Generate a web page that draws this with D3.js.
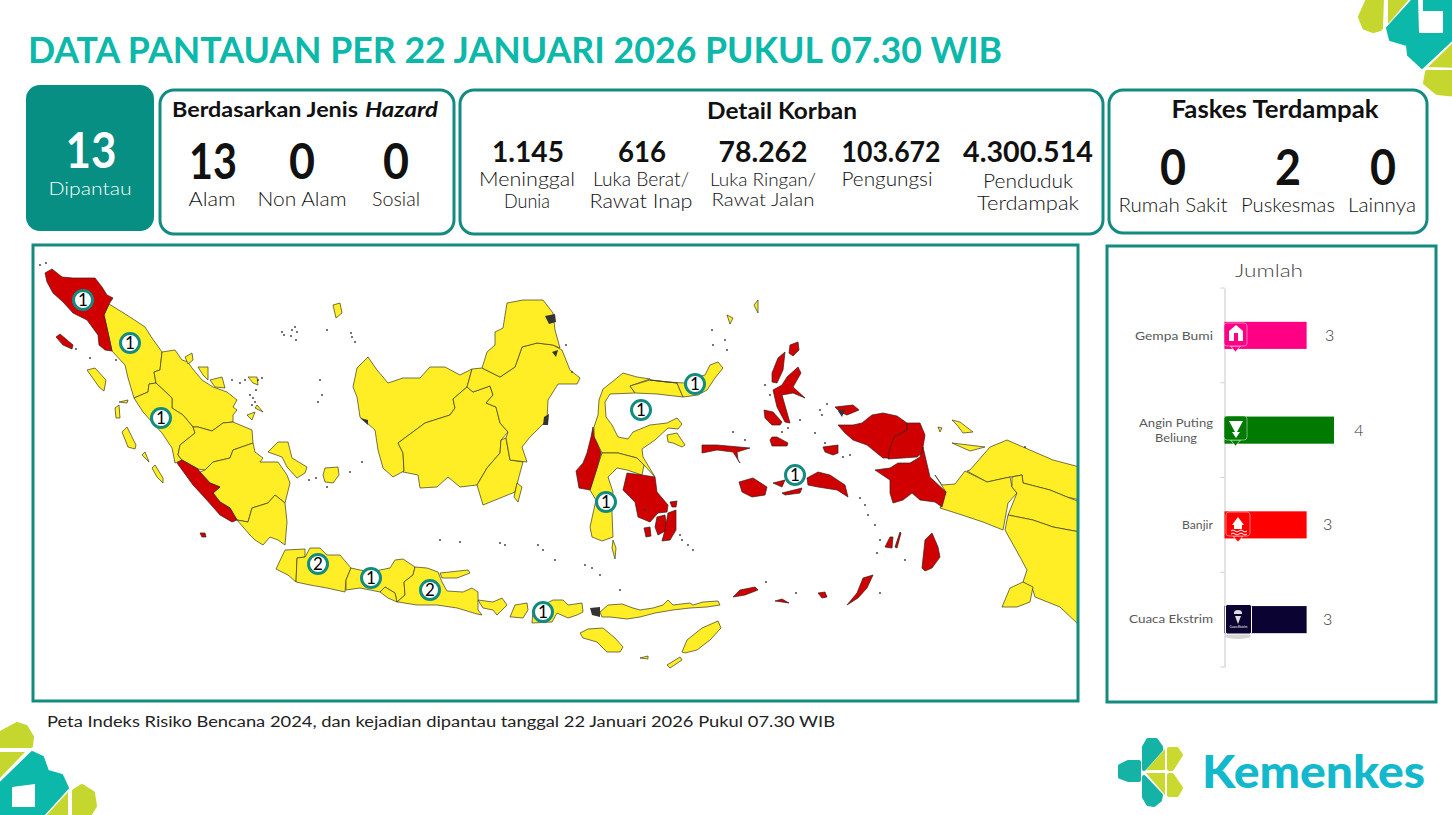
<!DOCTYPE html>
<html>
<head>
<meta charset="utf-8">
<script src="https://cdn.jsdelivr.net/npm/d3@7"></script>
<style>
  html, body { margin: 0; padding: 0; background: #fff; overflow: hidden; }
  text { font-family: Lato, "Open Sans", sans-serif; }
</style>
</head>
<body>
<div id="chart"></div>
<script>
// bar chart data
const hazardNames = ['Gempa Bumi', 'Angin Puting Beliung', 'Banjir', 'Cuaca Ekstrim']
const hazardCounts = [3, 4, 3, 3]
const hazardColors = ['#ff0084', '#007a00', '#ff0000', '#0b0433']

// headline numbers
const hazardTypeLabels = ['Alam', 'Non Alam', 'Sosial']
const hazardTypeValues = ['13', '0', '0']
const victimValues = ['1.145', '616', '78.262', '103.672', '4.300.514']
const victimLabels = [['Meninggal', 'Dunia'], ['Luka Berat/', 'Rawat Inap'], ['Luka Ringan/', 'Rawat Jalan'], ['Pengungsi'], ['Penduduk', 'Terdampak']]
const facilityLabels = ['Rumah Sakit', 'Puskesmas', 'Lainnya']
const facilityValues = ['0', '2', '0']

// map outlines, traced in map units
const aceh = [[45,273],[52,269],[62,277],[73,278],[85,278],[95,278],[102,287],[107,295],[113,298],[109,304],[104,315],[107,328],[112,351],[105,350],[99,345],[98,335],[87,320],[73,313],[63,302],[53,293],[47,282]]
const simeulue = [[56,337],[60,334],[73,345],[72,349],[63,345]]
const bengkulu = [[182,460],[198,469],[200,472],[210,483],[220,487],[213,493],[220,502],[230,508],[237,520],[232,522],[220,515],[205,498],[193,485],[177,463]]
const enggano = [[200,533],[205,533],[206,537],[202,537]]
const sulbar = [[593,427],[591,437],[587,453],[583,463],[576,471],[579,488],[590,490],[597,468],[601,453],[597,443],[594,437]]
const sultra = [[627,473],[642,475],[655,477],[657,492],[668,505],[667,512],[658,513],[650,522],[638,517],[635,502],[623,490]]
const buton = [[657,517],[665,515],[667,530],[658,535],[655,527]]
const muna = [[668,513],[676,510],[676,530],[670,540],[662,541],[665,530]]
const kabaena = [[644,528],[650,527],[651,536],[646,537]]
const wawonii = [[670,502],[677,501],[676,507],[672,507]]
const sula = [[702,445],[717,445],[750,448],[737,452],[738,460],[740,463],[733,452],[717,450],[702,453]]
const buru = [[739,482],[753,478],[767,487],[765,495],[752,497],[742,492]]
const seram = [[807,478],[818,472],[830,475],[845,485],[848,497],[837,490],[818,487],[808,485]]
const manipa = [[773,483],[785,480],[782,487]]
const ambon = [[782,493],[802,488],[800,493],[785,495]]
const halmaheraNorth = [[772,373],[778,358],[785,352],[783,370],[777,383],[772,382]]
const halmaheraEast = [[787,377],[798,367],[801,373],[793,387],[805,398],[793,393],[782,395],[790,423],[785,422],[777,407],[773,390],[782,385]]
const morotai = [[790,345],[798,342],[799,350],[793,356],[789,353]]
const bacan = [[764,410],[773,412],[782,422],[780,425],[772,425],[765,418]]
const obi = [[772,437],[777,437],[788,443],[787,446],[772,446],[770,440]]
const misool = [[823,447],[838,445],[838,453],[833,455],[825,452]]
const waigeo = [[835,407],[853,405],[859,410],[847,415],[840,412]]
const papuaBaratDaya = [[838,425],[853,425],[862,423],[872,415],[883,413],[897,416],[907,423],[907,430],[894,437],[890,458],[883,458],[867,445],[853,440],[845,433]]
const papuaBarat = [[907,423],[920,423],[925,435],[922,453],[917,457],[888,459],[890,448],[894,437],[907,430]]
const fakfak = [[875,470],[890,468],[898,463],[910,463],[920,457],[923,447],[930,477],[946,492],[942,507],[935,502],[920,500],[912,493],[903,500],[893,503],[890,493],[890,480]]
const aru = [[922,568],[925,540],[932,533],[938,547],[940,557],[932,568],[925,571]]
const keiWest = [[885,547],[890,537],[893,537],[892,548]]
const keiEast = [[895,547],[900,532],[901,533],[897,548]]
const tanimbar = [[847,605],[857,593],[863,578],[873,575],[867,588],[858,598]]
const wetar = [[733,597],[740,590],[755,587],[758,590],[745,595]]
const kisar = [[775,601],[782,599],[789,603]]
const babar = [[818,593],[825,592],[827,597],[822,598]]
const redRegions = [aceh, simeulue, bengkulu, enggano, sulbar, sultra, buton, muna, kabaena, wawonii, sula, buru, seram, manipa, ambon, halmaheraNorth, halmaheraEast, morotai, bacan, obi, misool, waigeo, papuaBaratDaya, papuaBarat, fakfak, aru, keiWest, keiEast, tanimbar, wetar, kisar, babar]

const sumut = [[109,304],[122,312],[133,319],[145,327],[152,338],[162,352],[160,370],[154,372],[156,383],[149,384],[148,392],[134,398],[128,378],[125,365],[112,351],[107,328],[104,315]]
const riau = [[162,352],[175,350],[182,360],[188,362],[192,368],[202,380],[213,387],[227,392],[237,400],[233,407],[237,410],[233,415],[233,422],[223,423],[212,431],[198,427],[193,427],[183,415],[172,408],[172,398],[156,383],[154,372],[160,370]]
const sumbar = [[134,398],[148,392],[149,384],[156,383],[172,398],[172,408],[183,415],[193,427],[195,433],[180,445],[178,455],[182,460],[175,463],[172,448],[162,433],[152,422],[143,412]]
const jambi = [[193,427],[198,427],[212,431],[223,423],[233,422],[252,430],[253,443],[233,450],[230,458],[213,462],[205,470],[198,469],[182,460],[178,455],[180,445],[195,433]]
const sumsel = [[253,443],[255,452],[263,458],[260,462],[278,462],[287,475],[290,483],[285,503],[275,495],[268,503],[252,508],[248,522],[237,520],[230,508],[220,502],[213,493],[220,487],[210,483],[200,472],[205,470],[213,462],[230,458],[233,450]]
const lampung = [[237,520],[248,522],[252,508],[268,503],[275,495],[285,503],[287,522],[285,545],[278,540],[270,537],[263,545],[255,540],[250,535]]
const bangka = [[278,442],[288,442],[292,458],[307,467],[305,473],[297,478],[287,467],[282,457],[268,452],[273,447]]
const belitung = [[325,468],[338,467],[339,475],[333,483],[325,482],[323,475]]
const nias = [[87,370],[95,368],[106,380],[104,391],[99,387]]
const siberut = [[122,432],[127,427],[136,445],[135,449],[128,447]]
const sipora = [[142,455],[145,452],[149,462]]
const pagai = [[152,468],[155,465],[163,478],[163,483],[157,477]]
const batu = [[115,408],[119,405],[120,418],[116,418]]
const tanahBala = [[119,402],[128,400],[127,403]]
const rupat = [[185,357],[192,353],[193,360],[188,364]]
const bengkalis = [[198,367],[208,367],[208,380],[203,375]]
const rangsang = [[210,380],[222,377],[225,388],[215,387]]
const batam = [[248,377],[257,377],[258,385],[253,383]]
const natuna = [[333,305],[340,303],[342,313],[336,318]]
const lingga = [[247,415],[255,412],[252,420]]
const singkep = [[255,408],[263,412],[257,405]]
const kalbar = [[368,357],[377,370],[388,383],[403,378],[420,378],[430,367],[445,367],[460,375],[472,369],[467,387],[453,399],[455,408],[450,415],[425,423],[398,443],[403,453],[404,471],[393,477],[383,468],[378,450],[375,430],[360,417],[357,397],[353,387],[357,368]]
const kalteng = [[398,443],[425,423],[450,415],[455,408],[453,399],[467,387],[473,392],[490,386],[493,395],[486,403],[496,407],[500,423],[508,432],[501,440],[500,453],[487,468],[477,485],[460,487],[448,477],[437,487],[420,488],[418,475],[403,472],[404,471],[403,453]]
const kalsel = [[477,485],[487,468],[500,453],[501,440],[506,438],[510,460],[523,462],[520,473],[515,492],[483,505]]
const kaltim = [[472,369],[482,368],[500,377],[515,367],[522,347],[537,343],[553,345],[562,350],[570,370],[580,378],[577,384],[558,384],[548,400],[547,420],[530,437],[522,447],[527,462],[510,460],[506,438],[508,432],[500,423],[496,407],[486,403],[493,395],[490,386],[473,392],[467,387]]
const kaltara = [[482,368],[487,352],[495,345],[495,332],[503,328],[507,303],[523,300],[543,300],[553,313],[555,330],[560,348],[553,345],[537,343],[522,347],[515,367],[500,377]]
const pulauLaut = [[517,483],[522,487],[518,502],[514,497]]
const banten = [[276,569],[285,550],[305,549],[305,557],[297,558],[296,582],[288,575]]
const jabar = [[297,558],[305,557],[310,548],[320,548],[327,555],[340,555],[351,568],[346,580],[345,592],[327,588],[310,585],[296,582]]
const jateng = [[351,568],[360,570],[370,572],[390,568],[395,560],[403,559],[415,567],[413,575],[404,582],[405,595],[397,602],[395,593],[385,587],[380,592],[360,588],[346,590],[346,580]]
const diy = [[380,592],[385,587],[395,593],[397,602],[388,598]]
const jatim = [[415,567],[427,568],[438,572],[442,582],[447,591],[463,592],[472,588],[478,592],[478,610],[482,615],[477,614],[457,608],[437,605],[417,605],[398,602],[397,602],[405,595],[404,582],[413,575]]
const madura = [[440,573],[468,570],[470,573],[457,578],[442,578]]
const bali = [[478,600],[493,602],[502,598],[507,605],[497,615],[493,610],[483,608]]
const lombok = [[510,617],[515,605],[527,603],[528,610],[523,618],[512,617]]
const sumbawa = [[532,623],[533,610],[553,600],[563,600],[568,605],[582,603],[583,612],[577,615],[568,618],[557,613],[552,622]]
const flores = [[600,612],[608,605],[622,604],[633,608],[640,610],[653,608],[663,605],[668,600],[673,605],[690,603],[693,605],[703,602],[718,601],[720,605],[707,607],[690,608],[673,610],[655,613],[640,617],[627,619],[610,617],[602,617]]
const sumba = [[580,633],[588,629],[603,628],[615,638],[623,647],[620,652],[607,652],[597,642],[583,638]]
const timor = [[682,652],[687,640],[702,628],[718,621],[721,628],[710,640],[697,650],[685,653]]
const rote = [[667,665],[680,657],[682,660],[670,668]]
const sabu = [[640,658],[648,656],[648,659]]
const sulteng = [[598,415],[599,400],[603,389],[612,382],[623,373],[637,377],[650,379],[630,386],[635,393],[610,394],[605,402],[606,417],[612,425],[618,437],[628,439],[633,432],[650,425],[667,423],[677,418],[682,424],[678,429],[668,428],[655,440],[642,449],[643,457],[655,477],[644,465],[637,458],[618,453],[602,453],[597,443],[594,437],[594,427]]
const gorontalo = [[630,386],[650,380],[677,383],[683,397],[657,394],[635,393]]
const sulut = [[650,380],[667,382],[685,383],[693,378],[705,375],[710,365],[718,362],[723,368],[715,378],[707,390],[698,395],[683,397],[677,383]]
const sulsel = [[602,453],[618,453],[637,458],[644,465],[642,475],[627,470],[617,468],[608,477],[613,492],[612,513],[613,537],[602,541],[592,537],[590,527],[596,500],[590,490],[597,468]]
const selayar = [[613,540],[616,548],[615,559],[612,548]]
const banggai = [[667,435],[677,433],[685,445],[682,447],[673,443],[668,442]]
const sangihe = [[727,315],[733,318],[730,324]]
const talaud = [[754,305],[758,300],[758,313]]
const biak = [[952,420],[960,422],[973,432],[963,433],[957,425]]
const yapen = [[952,443],[985,447],[970,451]]
const numfor = [[938,427],[942,428],[940,432]]
const papuaNorth = [[970,470],[990,447],[1007,440],[1023,447],[1053,460],[1072,465],[1080,467],[1080,500],[1067,497],[1050,490],[1023,483],[1022,475],[1010,477],[987,482],[967,471]]
const papuaTengah = [[935,475],[942,485],[955,484],[965,471],[987,482],[1010,477],[1012,487],[1017,493],[1008,503],[1003,530],[983,522],[962,515],[940,508],[946,492]]
const papuaPegunungan = [[1012,477],[1022,475],[1023,483],[1050,490],[1067,497],[1080,502],[1080,532],[1053,527],[1033,520],[1008,515],[1017,493],[1012,487]]
const papuaSelatan = [[1008,515],[1033,520],[1053,527],[1080,532],[1080,626],[1060,607],[1035,597],[1032,587],[1023,582],[1027,570],[1020,557],[1005,530]]
const dolak = [[1002,607],[1010,588],[1023,582],[1033,587],[1030,602],[1017,607]]
const yellowRegions = [sumut, riau, sumbar, jambi, sumsel, lampung, bangka, belitung, nias, siberut, sipora, pagai, batu, tanahBala, rupat, bengkalis, rangsang, batam, natuna, lingga, singkep, kalbar, kalteng, kalsel, kaltim, kaltara, pulauLaut, banten, jabar, jateng, diy, jatim, madura, bali, lombok, sumbawa, flores, sumba, timor, rote, sabu, sulteng, gorontalo, sulut, sulsel, selayar, banggai, sangihe, talaud, biak, yapen, numfor, papuaNorth, papuaTengah, papuaPegunungan, papuaSelatan, dolak]

const darkIslands = [[[545,316],[555,314],[556,322],[549,324]], [[544,417],[549,414],[548,425],[543,425]], [[552,352],[558,350],[556,357]], [[360,418],[368,420],[368,425]], [[838,411],[845,409],[842,417]], [[590,608],[600,607],[600,617],[592,615]]]
const specks = [[295,327],[292,330],[297,332],[282,332],[284,335],[291,336],[296,340],[327,330],[351,333],[352,337],[355,342],[258,380],[262,378],[250,395],[253,398],[255,402],[252,405],[256,390],[240,383],[245,380],[232,380],[320,380],[322,395],[318,402],[116,360],[90,358],[76,349],[40,265],[46,263],[33,268],[309,480],[316,478],[350,472],[362,462],[327,487],[572,372],[566,345],[460,542],[440,540],[500,543],[505,545],[538,545],[543,550],[555,560],[585,565],[592,568],[600,575],[620,590],[645,510],[680,535],[682,540],[688,545],[693,550],[765,385],[770,395],[782,432],[788,428],[820,410],[827,404],[822,415],[815,433],[825,443],[843,457],[850,455],[880,540],[877,553],[905,560],[860,498],[865,505],[868,515],[875,525],[733,432],[745,440],[800,420],[713,345],[725,340],[727,350],[880,593],[766,582],[796,593],[712,330],[1025,447]]

// dashboard marker counts, one per province
const markerLabels = ['1', '1', '1', '2', '1', '2', '1', '1', '1', '1', '1']
const markerSites = [[83,300],[130,343],[161,418],[318,564],[371,578],[430,590],[543,612],[606,502],[641,410],[695,384],[795,475]]

const teal = '#138b80'
const width = 1452
const height = 815

const svg = d3.select('#chart').append('svg')
  .attr('width', width)
  .attr('height', height)
  .style('display', 'block')

/**
 * Appends one line of text, optionally squeezed to a measured width.
 *
 * @param {*} g The d3 Selection to append to
 * @param {string} str The text
 * @param {number} x The anchor x position
 * @param {number} y The baseline
 * @param {number} size The font size
 * @param {object} opts Optional weight, style, anchor, fill and fitted width
 * @returns {*} The created text selection
 */
function label (g, str, x, y, size, opts = {}) {
  const t = g.append('text')
    .text(str)
    .attr('x', x)
    .attr('y', y)
    .attr('font-size', size)
    .attr('font-weight', opts.weight || 400)
    .attr('font-style', opts.style || 'normal')
    .attr('text-anchor', opts.anchor || 'middle')
    .attr('fill', opts.fill || '#111')
  if (opts.fit) {
    t.attr('textLength', opts.fit).attr('lengthAdjust', 'spacingAndGlyphs')
  }
  return t
}

/**
 * Draws a rounded panel.
 *
 * @param {number[]} box The left, top, right and bottom edges
 * @returns {*} The created rect selection
 */
function panel (box) {
  return svg.append('rect')
    .attr('x', box[0])
    .attr('y', box[1])
    .attr('width', box[2] - box[0])
    .attr('height', box[3] - box[1])
    .attr('rx', 14)
    .attr('fill', '#fff')
    .attr('stroke', teal)
    .attr('stroke-width', 3)
}

// logos sit under the panels
const logoLime = '#c5d62e'
const logoTeal = '#0bb8a9'
const logoShapes = [
  { pts: [[1370,-3],[1361,17],[1365,27],[1373,30],[1380,28],[1381,-3]], fill: logoLime, r: 6 },
  { pts: [[1388,-3],[1411,-3],[1388,24]], fill: logoLime, r: 0 },
  { pts: [[1415,-3],[1387,28],[1390,40],[1407,45],[1408,55],[1422,68],[1456,36],[1456,-3]], fill: logoTeal, r: 2 },
  { pts: [[1418,-3],[1423,-3],[1423,11],[1443,11],[1443,33],[1419,33]], fill: '#fff', r: 0 },
  { pts: [[1428,67],[1456,40],[1456,68]], fill: logoLime, r: 0 },
  { pts: [[1427,72],[1456,72],[1456,95],[1437,93],[1425,83]], fill: logoLime, r: 4 },
  { pts: [[-3,735],[17,724],[26,727],[32,737],[31,746],[-3,746]], fill: logoLime, r: 4 },
  { pts: [[-3,752],[25,752],[-3,781]], fill: logoLime, r: 0 },
  { pts: [[-3,786],[32,752],[43,757],[48,771],[62,775],[68,788],[40,819],[-3,819]], fill: logoTeal, r: 2 },
  { pts: [[12,787],[35,784],[35,807],[12,807]], fill: '#fff', r: 0 },
  { pts: [[43,819],[68,792],[68,819]], fill: logoLime, r: 0 },
  { pts: [[74,791],[82,786],[93,793],[95,806],[87,819],[74,819]], fill: logoLime, r: 4 },
  { pts: [[1139,762],[1128,762],[1120,766],[1120,777],[1128,780],[1139,780]], fill: '#15b3a6', r: 4 },
  { pts: [[1144,747],[1148,740],[1156,740],[1161,747],[1161,750],[1144,769]], fill: '#15b3a6', r: 4 },
  { pts: [[1144,777],[1161,795],[1160,800],[1154,805],[1148,804],[1144,797]], fill: '#15b3a6', r: 4 },
  { pts: [[1146,770],[1165,749],[1165,770]], fill: '#c9d92f', r: 0 },
  { pts: [[1169,749],[1177,749],[1181,755],[1172,769],[1169,769]], fill: '#c9d92f', r: 4 },
  { pts: [[1146,773],[1165,773],[1165,795]], fill: '#c9d92f', r: 0 },
  { pts: [[1169,775],[1172,775],[1181,788],[1177,795],[1169,795]], fill: '#c9d92f', r: 4 }
]
svg.selectAll('path.logo')
  .data(logoShapes)
  .join('path')
  .attr('class', 'logo')
  .attr('d', d => d3.line()(d.pts) + 'Z')
  .attr('fill', d => d.fill)
  .attr('stroke', d => d.fill)
  .attr('stroke-width', d => d.r)
  .attr('stroke-linejoin', 'round')

label(svg, 'Kemenkes', 1202, 788, 45, { weight: 900, anchor: 'start', fill: '#12b8cc', fit: 223 })

// title
label(svg, 'DATA PANTAUAN PER 22 JANUARI 2026 PUKUL 07.30 WIB', 28, 63, 37, { weight: 700, anchor: 'start', fill: '#0bb8a9', fit: 974 })

// headline panels
svg.append('rect').attr('x', 26).attr('y', 85).attr('width', 128).attr('height', 146).attr('rx', 14).attr('fill', '#068f82')
label(svg, '13', 91, 168, 50, { weight: 700, fill: '#fff', fit: 51 })
label(svg, 'Dipantau', 90, 195, 18, { weight: 300, fill: '#fff', fit: 83 })

panel([160, 90, 454, 234])
label(svg, 'Berdasarkan Jenis', 172, 117, 20, { weight: 700, anchor: 'start', fit: 186 })
label(svg, 'Hazard', 365, 117, 20, { weight: 700, style: 'italic', anchor: 'start', fit: 73 })

const hazardTypeX = [213, 302, 396]
const hazardTypeFit = [48, 26, 26]
const hazardLabelFit = [47, 89, 48]
hazardTypeValues.forEach((v, i) => {
  label(svg, v, hazardTypeX[i], 179, 49, { weight: 700, fit: hazardTypeFit[i] })
  label(svg, hazardTypeLabels[i], hazardTypeX[i] - (i === 0 ? 1 : 0), 206, 19, { weight: 300, fit: hazardLabelFit[i] })
})

panel([460, 90, 1103, 234])
label(svg, 'Detail Korban', 782, 119, 23, { weight: 700, fit: 150 })
const victimX = [528, 642, 763, 891, 1028]
const victimFit = [72, 48, 89, 99, 130]
const victimLine1 = [186, 186, 186, 186, 188]
const victimLine2 = [208, 208, 206, 208, 210]
const victimLabelFit = [[96, 46], [96, 103], [106, 103], [91], [90, 102]]
victimValues.forEach((v, i) => {
  label(svg, v, victimX[i], 162, 29, { weight: 700, fit: victimFit[i] })
  victimLabels[i].forEach((line, j) => {
    const xText = i === 3 ? 887 : victimX[i] - (i < 2 ? 1 : 0)
    label(svg, line, xText, j === 0 ? victimLine1[i] : victimLine2[i], i === 2 ? 17.5 : 19, { weight: 300, fit: victimLabelFit[i][j] })
  })
})

panel([1109, 90, 1427, 233])
label(svg, 'Faskes Terdampak', 1275, 118, 24, { weight: 700, fit: 207 })
const facilityX = [1173, 1288, 1383]
const facilityLabelX = [1173, 1288, 1382]
const facilityLabelFit = [109, 94, 68]
facilityValues.forEach((v, i) => {
  label(svg, v, facilityX[i], 185, 49, { weight: 700, fit: 26 })
  label(svg, facilityLabels[i], facilityLabelX[i], 212, 19, { weight: 300, fit: facilityLabelFit[i] })
})

// map
const mapBox = [34, 246, 1078, 701]
const mapX = d3.scaleLinear().domain([mapBox[0], mapBox[2]]).range([mapBox[0], mapBox[2]])
const mapY = d3.scaleLinear().domain([mapBox[1], mapBox[3]]).range([mapBox[1], mapBox[3]])
const outline = d3.line()
  .x(d => mapX(d[0]))
  .y(d => mapY(d[1]))
  .curve(d3.curveLinearClosed)

svg.append('clipPath').attr('id', 'map-clip').append('rect')
  .attr('x', mapBox[0])
  .attr('y', mapBox[1])
  .attr('width', mapBox[2] - mapBox[0])
  .attr('height', mapBox[3] - mapBox[1])

const mapG = svg.append('g').attr('clip-path', 'url(#map-clip)')

mapG.selectAll('path.yellow')
  .data(yellowRegions)
  .join('path')
  .attr('class', 'yellow')
  .attr('d', outline)
  .attr('fill', '#ffed26')
  .attr('stroke', '#3a3a1a')
  .attr('stroke-width', 0.7)

mapG.selectAll('path.red')
  .data(redRegions)
  .join('path')
  .attr('class', 'red')
  .attr('d', outline)
  .attr('fill', '#d10000')
  .attr('stroke', '#3a1a1a')
  .attr('stroke-width', 0.7)

mapG.selectAll('path.dark')
  .data(darkIslands)
  .join('path')
  .attr('class', 'dark')
  .attr('d', outline)
  .attr('fill', '#333')

mapG.selectAll('circle.speck')
  .data(specks)
  .join('circle')
  .attr('class', 'speck')
  .attr('cx', d => mapX(d[0]))
  .attr('cy', d => mapY(d[1]))
  .attr('r', 0.9)
  .attr('fill', '#333')

svg.append('rect')
  .attr('x', mapBox[0] - 1)
  .attr('y', mapBox[1] - 1)
  .attr('width', mapBox[2] - mapBox[0] + 1)
  .attr('height', mapBox[3] - mapBox[1] + 1)
  .attr('fill', 'none')
  .attr('stroke', teal)
  .attr('stroke-width', 3)

const markers = svg.selectAll('g.marker')
  .data(markerSites)
  .join('g')
  .attr('class', 'marker')
  .attr('transform', d => 'translate(' + mapX(d[0]) + ',' + mapY(d[1]) + ')')
markers.append('circle')
  .attr('r', 9.5)
  .attr('fill', '#fff')
  .attr('stroke', teal)
  .attr('stroke-width', 3)
markers.append('text')
  .text((d, i) => markerLabels[i])
  .attr('y', 6)
  .attr('text-anchor', 'middle')
  .attr('font-size', 17)
  .attr('fill', '#000')

label(svg, 'Peta Indeks Risiko Bencana 2024, dan kejadian dipantau tanggal 22 Januari 2026 Pukul 07.30 WIB', 47, 727, 15.5, { anchor: 'start', fill: '#222', fit: 788 })

// bar chart
svg.append('rect')
  .attr('x', 1107)
  .attr('y', 246)
  .attr('width', 329)
  .attr('height', 456)
  .attr('fill', '#fff')
  .attr('stroke', teal)
  .attr('stroke-width', 3)

label(svg, 'Jumlah', 1269, 277, 18, { weight: 300, fill: '#444', fit: 68 })

const barY = d3.scaleBand().domain(hazardNames).range([288, 667]).paddingInner(0.714).paddingOuter(0.357)
const barX = d3.scaleLinear().domain([0, 4]).range([1224.5, 1334])

const yAxis = svg.append('g')
  .attr('transform', 'translate(' + barX(0) + ',0)')
  .call(d3.axisLeft(barY).tickSize(0).tickFormat(''))
yAxis.select('.domain').attr('stroke', '#d0d0d0').attr('stroke-width', 1.2)

svg.selectAll('line.band-tick')
  .data(d3.range(hazardNames.length + 1))
  .join('line')
  .attr('class', 'band-tick')
  .attr('x1', barX(0) - 4)
  .attr('x2', barX(0))
  .attr('y1', d => barY.range()[0] + d * barY.step())
  .attr('y2', d => barY.range()[0] + d * barY.step())
  .attr('stroke', '#d0d0d0')

svg.selectAll('rect.bar')
  .data(hazardNames)
  .join('rect')
  .attr('class', 'bar')
  .attr('x', barX(0))
  .attr('y', d => barY(d))
  .attr('width', (d, i) => barX(hazardCounts[i]) - barX(0))
  .attr('height', barY.bandwidth())
  .attr('fill', (d, i) => hazardColors[i])

const valueOffset = [23, 25, 21, 21]
hazardNames.forEach((name, i) => {
  const mid = barY(name) + barY.bandwidth() / 2
  label(svg, String(hazardCounts[i]), barX(hazardCounts[i]) + valueOffset[i], mid + 5.5, 16, { weight: 300, fill: '#333' })
})

const categoryLines = [['Gempa Bumi'], ['Angin Puting', 'Beliung'], ['Banjir'], ['Cuaca Ekstrim']]
const categoryFit = [[78], [74, 42], [31], [84]]
const categoryY = [340, 427, 529, 623]
categoryLines.forEach((lines, i) => {
  lines.forEach((line, j) => {
    const opts = { weight: 400, anchor: j === 1 ? 'middle' : 'end', fill: '#595959', fit: categoryFit[i][j] }
    label(svg, line, j === 1 ? 1176 : 1213, categoryY[i] + j * 15, 12, opts)
  })
})

// icon pins on the bars
const pinBoxes = [[1224, 323, 23, 23], [1224, 416, 23, 24], [1226, 512, 24, 24]]
pinBoxes.forEach((b, i) => {
  const cx = b[0] + b[2] / 2
  const bottom = b[1] + b[3]
  const pin = svg.append('g')
  pin.append('path')
    .attr('d', 'M' + (cx - 5) + ',' + bottom + 'L' + cx + ',' + (bottom + 6) + 'L' + (cx + 5) + ',' + bottom + 'Z')
    .attr('fill', hazardColors[i])
    .attr('stroke', '#fff')
    .attr('stroke-width', 0.6)
  pin.append('rect')
    .attr('x', b[0])
    .attr('y', b[1])
    .attr('width', b[2])
    .attr('height', b[3])
    .attr('rx', 3)
    .attr('fill', hazardColors[i])
    .attr('stroke', '#fff')
    .attr('stroke-opacity', 0.6)
    .attr('stroke-width', 0.8)
})
// gempa glyph
svg.append('path')
  .attr('d', 'M1229,341V331L1236,325L1243,331V341H1238V333H1234V341Z')
  .attr('fill', '#fff')
// angin glyph
svg.append('path')
  .attr('d', 'M1229,421H1243L1237,432L1240,432L1236,438L1232,432L1235,432Z')
  .attr('fill', '#fff')
// banjir glyph
svg.append('path')
  .attr('d', 'M1232,525L1238,517L1244,525H1242V529H1234V525Z')
  .attr('fill', '#fff')
svg.append('path')
  .attr('d', 'M1231,531q2,-2 4,0t4,0t4,0t4,0M1231,534q2,-2 4,0t4,0t4,0t4,0')
  .attr('fill', 'none')
  .attr('stroke', '#fff')
// cuaca glyph
svg.append('ellipse')
  .attr('cx', 1238).attr('cy', 636).attr('rx', 13).attr('ry', 3)
  .attr('fill', '#bbb').attr('opacity', 0.6)
svg.append('rect')
  .attr('x', 1225.5).attr('y', 604.5).attr('width', 26).attr('height', 29.5).attr('rx', 2)
  .attr('fill', hazardColors[3]).attr('stroke', '#fff')
svg.append('path')
  .attr('d', 'M1234,613a4,3 0 0 1 8,0v1h-8ZM1235,616h6l-3,8Z')
  .attr('fill', '#ddd')
label(svg, 'Cuaca Ekstrim', 1238.5, 628, 2.8, { fill: '#fff' })
</script>
</body>
</html>
